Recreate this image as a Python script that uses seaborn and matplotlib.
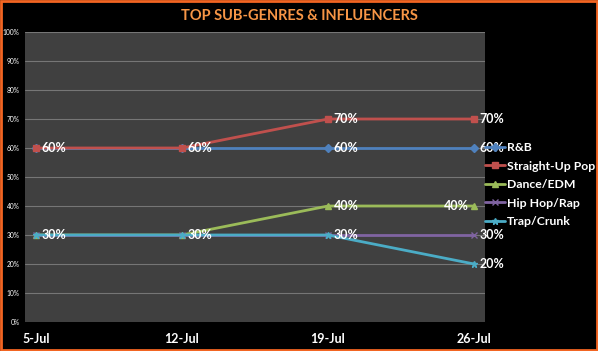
import pandas as pd
import matplotlib.pyplot as plt
import matplotlib.patches as mpatches
import seaborn as sns

# chart data
weeks = ['5-Jul', '12-Jul', '19-Jul', '26-Jul']
series_names = ['R&B', 'Straight-Up Pop', 'Dance/EDM', 'Hip Hop/Rap', 'Trap/Crunk']
rnb = [60, 60, 60, 60]
pop = [60, 60, 70, 70]
edm = [30, 30, 40, 40]
hiphop = [30, 30, 30, 30]
trap = [30, 30, 30, 20]
y_ticks = [0, 10, 20, 30, 40, 50, 60, 70, 80, 90, 100]

# which points carry a data label (series -> week indexes)
labelled = {
    'R&B': [2, 3],
    'Straight-Up Pop': [0, 1, 2, 3],
    'Dance/EDM': [0, 1, 2, 3],
    'Hip Hop/Rap': [3],
    'Trap/Crunk': [2, 3],
}

colors = {
    'R&B': '#4F81BD',
    'Straight-Up Pop': '#C0504D',
    'Dance/EDM': '#9BBB59',
    'Hip Hop/Rap': '#8064A2',
    'Trap/Crunk': '#4BACC6',
}
markers = {
    'R&B': 'D',
    'Straight-Up Pop': 's',
    'Dance/EDM': '^',
    'Hip Hop/Rap': 'x',
    'Trap/Crunk': '*',
}

values = [rnb, pop, edm, hiphop, trap]
rows = []
for name, vals in zip(series_names, values):
    for i, v in enumerate(vals):
        rows.append({'week': i, 'label': weeks[i], 'series': name, 'value': v})
df = pd.DataFrame(rows)

sns.set_style('dark')
plt.rcParams['font.family'] = ['Lato', 'DejaVu Sans']

fig = plt.figure(figsize=(5.98, 3.51), dpi=100, facecolor='black')
ax = fig.add_axes([25 / 598, 1 - 322 / 351, 460 / 598, 290 / 351])
ax.set_facecolor('#404040')

for y in y_ticks[1:]:
    ax.axhline(y, color='#767676', lw=0.8, zorder=0)

for name in series_names:
    sub = df[df['series'] == name]
    sns.lineplot(data=sub, x='week', y='value', color=colors[name],
                 marker=markers[name], lw=2, markersize=4.5,
                 markeredgecolor=colors[name], markeredgewidth=1,
                 ax=ax, legend=False)

for name, vals in zip(series_names, values):
    for i in labelled[name]:
        if name == 'Dance/EDM' and i == 3:
            ax.annotate(f'{vals[i]}%', (i, vals[i]), xytext=(-4, 0),
                        textcoords='offset points', ha='right', va='center',
                        color='white', fontsize=9, fontweight='bold')
        else:
            ax.annotate(f'{vals[i]}%', (i, vals[i]), xytext=(4, 0),
                        textcoords='offset points', ha='left', va='center',
                        color='white', fontsize=9, fontweight='bold')

ax.set_xlim(-0.075, 3.075)
ax.set_ylim(0, 100)
ax.set_xticks(range(len(weeks)))
ax.set_xticklabels(weeks, color='white', fontsize=9, fontweight='bold')
ax.set_yticks(y_ticks)
ax.set_yticklabels([f'{t}%' for t in y_ticks], color='white', fontsize=4.8)
ax.tick_params(axis='x', length=0, pad=8)
ax.tick_params(axis='y', length=0, pad=4)
ax.set_xlabel('')
ax.set_ylabel('')
ax.grid(False)
for s in ax.spines.values():
    s.set_visible(False)

handles = [plt.Line2D([], [], color=colors[n], marker=markers[n], lw=2,
                      markersize=4.5) for n in series_names]
leg = fig.legend(handles, series_names, loc='upper left',
                 bbox_to_anchor=(474 / 598, 1 - 131 / 351), frameon=False,
                 labelcolor='white', prop={'size': 8.8, 'weight': 'bold'},
                 handlelength=1.6, handletextpad=0.2, labelspacing=0.62)

fig.text(0.5, 1 - 16 / 351, 'TOP SUB-GENRES & INFLUENCERS', ha='center',
         va='center', color='#F79646', fontsize=10.5, fontweight='bold')

fig.patches.append(mpatches.Rectangle((0.002, 0.003), 0.996, 0.994,
                                      transform=fig.transFigure, fill=False,
                                      edgecolor='#F26522', lw=2))

fig.savefig('out.png', dpi=100, facecolor='black')
